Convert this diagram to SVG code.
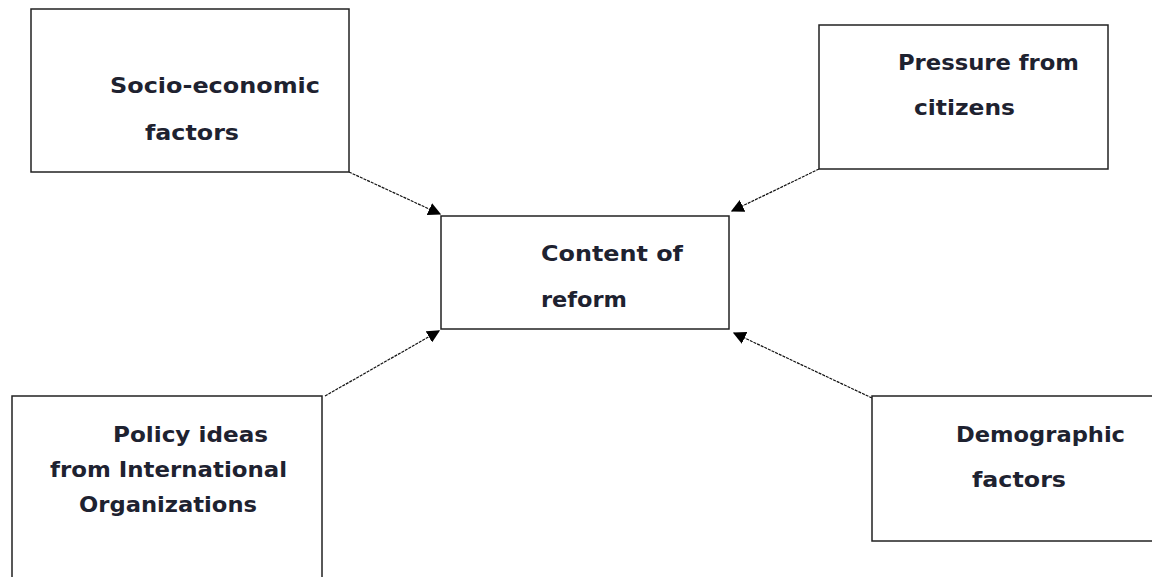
<svg xmlns="http://www.w3.org/2000/svg" width="1152" height="577" viewBox="0 0 1152 577">
<style>
.box{fill:#fff;stroke:#222;stroke-width:1.5}
.t{font-family:"DejaVu Sans",Verdana,sans-serif;font-weight:bold;font-size:21px;fill:#1e2230}
.c{stroke:#111;stroke-width:1.2;stroke-dasharray:3 1;fill:none}
</style>
<defs>
<marker id="ah" viewBox="0 0 10 10" refX="9" refY="5" markerWidth="13" markerHeight="13" markerUnits="userSpaceOnUse" orient="auto">
<path d="M0,0 L10,5 L0,10 Z" fill="#000"/>
</marker>
</defs>
<rect width="1152" height="577" fill="#fff"/>
<g id="connectors">
<line class="c" x1="349" y1="172" x2="440" y2="214" marker-end="url(#ah)"/>
<line class="c" x1="819" y1="169" x2="732" y2="211" marker-end="url(#ah)"/>
<line class="c" x1="325" y1="396" x2="439" y2="331" marker-end="url(#ah)"/>
<line class="c" x1="872" y1="398" x2="734" y2="333" marker-end="url(#ah)"/>
</g>
<g id="socio">
<rect class="box" x="31" y="9" width="318" height="163"/>
<text class="t" x="110" y="93" textLength="210" lengthAdjust="spacingAndGlyphs">Socio-economic</text>
<text class="t" x="145" y="140" textLength="94" lengthAdjust="spacingAndGlyphs">factors</text>
</g>
<g id="pressure">
<rect class="box" x="819" y="25" width="289" height="144"/>
<text class="t" x="898" y="70" textLength="181" lengthAdjust="spacingAndGlyphs">Pressure from</text>
<text class="t" x="914" y="115" textLength="101" lengthAdjust="spacingAndGlyphs">citizens</text>
</g>
<g id="content">
<rect class="box" x="441" y="216" width="288" height="113"/>
<text class="t" x="541" y="261" textLength="142" lengthAdjust="spacingAndGlyphs">Content of</text>
<text class="t" x="541" y="307" textLength="86" lengthAdjust="spacingAndGlyphs">reform</text>
</g>
<g id="policy">
<rect class="box" x="12" y="396" width="310" height="200"/>
<text class="t" x="113" y="442" textLength="155" lengthAdjust="spacingAndGlyphs">Policy ideas</text>
<text class="t" x="50" y="477" textLength="237" lengthAdjust="spacingAndGlyphs">from International</text>
<text class="t" x="79" y="512" textLength="178" lengthAdjust="spacingAndGlyphs">Organizations</text>
</g>
<g id="demographic">
<rect class="box" x="872" y="396" width="300" height="145"/>
<text class="t" x="956" y="442" textLength="169" lengthAdjust="spacingAndGlyphs">Demographic</text>
<text class="t" x="972" y="487" textLength="94" lengthAdjust="spacingAndGlyphs">factors</text>
</g>
</svg>
